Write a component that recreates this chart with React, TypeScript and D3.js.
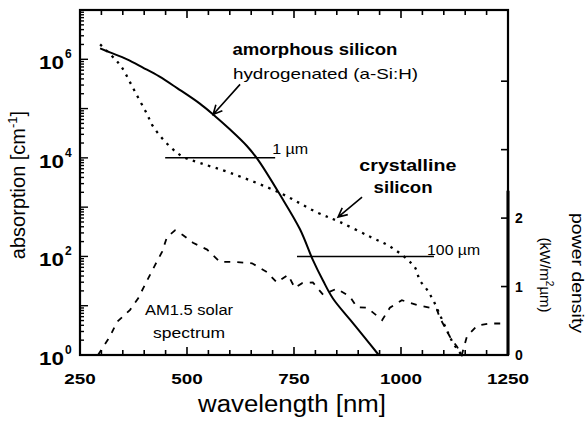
import React from "react";
import * as d3 from "d3";

// ---- data ----
// amorphous silicon (a-Si:H) absorption [cm^-1]
const aSiWavelength = [297, 320, 360, 397, 435, 477, 530, 561, 600, 640, 666, 717, 764, 794, 818, 841, 881, 911, 948];
const aSiAbsorption = [1.66e6, 1.38e6, 1.0e6, 6.8e5, 4.5e5, 2.6e5, 1.26e5, 7.6e4, 3.8e4, 1.74e4, 9.1e3, 1.8e3, 355, 85, 32, 14, 5.2, 2.5, 1.0];

// crystalline silicon absorption [cm^-1]
const cSiWavelength = [297, 332, 348, 367, 386, 407, 421, 460, 491, 530, 600, 717, 804, 857, 928, 974, 1016, 1033, 1044, 1061, 1075, 1091, 1110, 1121, 1133, 1142];
const cSiAbsorption = [2.0e6, 1.0e6, 6.8e5, 3.4e5, 1.66e5, 7.6e4, 4.3e4, 1.7e4, 1.05e4, 7.9e3, 5.0e3, 1.95e3, 780, 500, 250, 160, 85, 59, 33, 21, 13, 6.5, 2.8, 1.8, 1.26, 1.0];

// AM1.5 solar spectrum power density [kW/m^2 um]
const solarWavelength = [292, 320, 336, 367, 386, 407, 425, 442, 453, 472, 491, 514, 547, 577, 612, 652, 687, 710, 736, 752, 769, 794, 818, 850, 881, 897, 921, 956, 974, 1002, 1037, 1068, 1084, 1091, 1103, 1114, 1131, 1142, 1154, 1178, 1208, 1243];
const solarPower = [0, 0.27, 0.48, 0.66, 0.83, 1.09, 1.31, 1.51, 1.72, 1.82, 1.75, 1.64, 1.54, 1.36, 1.36, 1.34, 1.21, 1.06, 1.17, 0.98, 1.05, 1.06, 0.88, 0.97, 0.85, 0.70, 0.69, 0.51, 0.69, 0.80, 0.73, 0.69, 0.66, 0.54, 0.40, 0.27, 0.12, 0, 0.27, 0.43, 0.46, 0.46];

// penetration-depth reference lines: [start wavelength, end wavelength, absorption]
const depthLineStart = [449, 757];
const depthLineEnd = [706, 1077];
const depthLineAbs = [1e4, 1e2];
const depthLabels = ["1 \u00b5m", "100 \u00b5m"];

// axis ticks
const xTickLabels = [250, 500, 750, 1000, 1250];
const xMinorTicks = d3.range(250, 1251, 50);
const yExpLabels = [0, 2, 4, 6];
const powerTickLabels = [0, 1, 2];
const powerTicks = [0, 1, 2, 3, 4];

export default function App() {
  const W = 586, H = 422;
  const L = 80, R = 508, T = 10, B = 355;
  const x = d3.scaleLinear().domain([250, 1250]).range([L, R]);
  const y = d3.scaleLog().domain([1, 1e7]).range([B, T]);
  const yp = d3.scaleLinear().domain([0, 5.04]).range([B, T]);

  const lineAbs = d3
    .line<[number, number]>()
    .x((d) => x(d[0]))
    .y((d) => y(d[1]))
    .curve(d3.curveCatmullRom.alpha(0.5));
  const linePow = d3
    .line<[number, number]>()
    .x((d) => x(d[0]))
    .y((d) => yp(d[1]));

  const aSi = aSiWavelength.map((w, i) => [w, aSiAbsorption[i]] as [number, number]);
  const cSi = cSiWavelength.map((w, i) => [w, cSiAbsorption[i]] as [number, number]);
  const solar = solarWavelength.map((w, i) => [w, solarPower[i]] as [number, number]);

  const arrow = (x1: number, y1: number, x2: number, y2: number) => {
    const a = Math.atan2(y2 - y1, x2 - x1);
    const len = 10, sp = 0.45;
    const p1 = [x2 - len * Math.cos(a - sp), y2 - len * Math.sin(a - sp)];
    const p2 = [x2 - len * Math.cos(a + sp), y2 - len * Math.sin(a + sp)];
    return `M${x1},${y1}L${x2},${y2}M${p1[0]},${p1[1]}L${x2},${y2}L${p2[0]},${p2[1]}`;
  };

  // log minor ticks
  const logTicks: { v: number; major: boolean }[] = [];
  for (let e = 0; e < 7; e++) {
    for (let m = 1; m < 10; m++) logTicks.push({ v: m * Math.pow(10, e), major: m === 1 });
  }
  logTicks.push({ v: 1e7, major: true });

  const font = "'Liberation Sans', Arial, Helvetica, sans-serif";

  return (
    <svg width={W} height={H} style={{ position: "absolute", left: 0, top: 0, background: "#fff" }} fontFamily={font}>
      <rect width={W} height={H} fill="#fff" />
      {/* curves */}
      <path d={lineAbs(aSi) || ""} fill="none" stroke="#000" strokeWidth={2} />
      <path d={lineAbs(cSi) || ""} fill="none" stroke="#000" strokeWidth={2.3} strokeDasharray="2.5,5.5" />
      <path d={linePow(solar) || ""} fill="none" stroke="#000" strokeWidth={1.8} strokeDasharray="6,7" />

      {/* depth lines */}
      {depthLineAbs.map((a, i) => (
        <line key={i} x1={x(depthLineStart[i])} x2={x(depthLineEnd[i])} y1={y(a)} y2={y(a)} stroke="#000" strokeWidth={1.5} />
      ))}
      <text x={x(699)} y={y(1.2e4)} fontSize={14} textLength={36} lengthAdjust="spacingAndGlyphs">{depthLabels[0]}</text>
      <text x={x(1061)} y={y(107)} fontSize={14} textLength={53} lengthAdjust="spacingAndGlyphs">{depthLabels[1]}</text>

      {/* annotations */}
      <text x={x(799)} y={y(1.2e6)} fontSize={17} fontWeight="bold" textAnchor="middle" textLength={165} lengthAdjust="spacingAndGlyphs">amorphous silicon</text>
      <text x={x(823.6)} y={y(3.9e5)} fontSize={15} textAnchor="middle" textLength={185} lengthAdjust="spacingAndGlyphs">hydrogenated (a-Si:H)</text>
      <path d={arrow(x(624), y(3.1e5), x(561), y(7.6e4))} fill="none" stroke="#000" strokeWidth={1.6} />

      <text x={x(1016)} y={y(5.5e3)} fontSize={17} fontWeight="bold" textAnchor="middle" textLength={97} lengthAdjust="spacingAndGlyphs">crystalline</text>
      <text x={x(1005)} y={y(1.95e3)} fontSize={17} fontWeight="bold" textAnchor="middle" textLength={59} lengthAdjust="spacingAndGlyphs">silicon</text>
      <path d={arrow(x(909), y(1.6e3), x(853), y(630))} fill="none" stroke="#000" strokeWidth={1.6} />

      <text x={x(505)} y={yp(0.58)} fontSize={14} textAnchor="middle" textLength={88} lengthAdjust="spacingAndGlyphs">AM1.5 solar</text>
      <text x={x(505)} y={yp(0.25)} fontSize={14} textAnchor="middle" textLength={72} lengthAdjust="spacingAndGlyphs">spectrum</text>

      {/* frame */}
      <rect x={L} y={T} width={R - L} height={B - T} fill="none" stroke="#000" strokeWidth={2.2} />

      {/* bottom & top ticks */}
      {xMinorTicks.map((v) => {
        const major = v % 250 === 0;
        return (
          <g key={v}>
            <line x1={x(v)} x2={x(v)} y1={B} y2={B - (major ? 8 : 5)} stroke="#000" strokeWidth={1.6} />
            <line x1={x(v)} x2={x(v)} y1={T} y2={T + (major ? 8 : 5)} stroke="#000" strokeWidth={1.6} />
          </g>
        );
      })}
      {xTickLabels.map((v) => (
        <text key={v} x={x(v)} y={384} fontSize={15} fontWeight="bold" textAnchor="middle" textLength={String(v).length * 10.5} lengthAdjust="spacingAndGlyphs">{v}</text>
      ))}

      {/* left log ticks */}
      {logTicks.map((t, i) => (
        <line key={i} x1={L} x2={L + (t.major ? 8 : 4)} y1={y(t.v)} y2={y(t.v)} stroke="#000" strokeWidth={1.4} />
      ))}
      {yExpLabels.map((e) => (
        <text key={e} x={64} y={y(Math.pow(10, e)) + 10} fontSize={18} fontWeight="bold" textAnchor="end" textLength={25} lengthAdjust="spacingAndGlyphs">10</text>
      ))}
      {yExpLabels.map((e) => (
        <text key={"s" + e} x={65} y={y(Math.pow(10, e)) - 1} fontSize={12} fontWeight="bold">{e}</text>
      ))}

      {/* right power axis */}
      <line x1={R} x2={R} y1={yp(2.4)} y2={B} stroke="#000" strokeWidth={3} />
      {powerTicks.map((v) => (
        <line key={v} x1={R} x2={R - 7} y1={yp(v)} y2={yp(v)} stroke="#000" strokeWidth={1.6} />
      ))}
      {powerTickLabels.map((v) => (
        <text key={v} x={515} y={yp(v) + 5} fontSize={14} fontWeight="bold">{v}</text>
      ))}

      {/* axis titles */}
      <text x={292} y={412} fontSize={23} textAnchor="middle" textLength={188} lengthAdjust="spacingAndGlyphs">wavelength [nm]</text>
      <text transform="translate(25,185) rotate(-90)" fontSize={20} textAnchor="middle">
        absorption [cm<tspan fontSize={13} dy={-8}>-1</tspan><tspan dy={8}>]</tspan>
      </text>
      <text transform="translate(572,273) rotate(90)" fontSize={16} textAnchor="middle" textLength={120} lengthAdjust="spacingAndGlyphs">power density</text>
      <text transform="translate(540,275) rotate(90)" fontSize={15} textAnchor="middle">
        (kW/m<tspan fontSize={10} dy={-6}>2</tspan><tspan dy={6}>{"\u00b5m)"}</tspan>
      </text>
    </svg>
  );
}
